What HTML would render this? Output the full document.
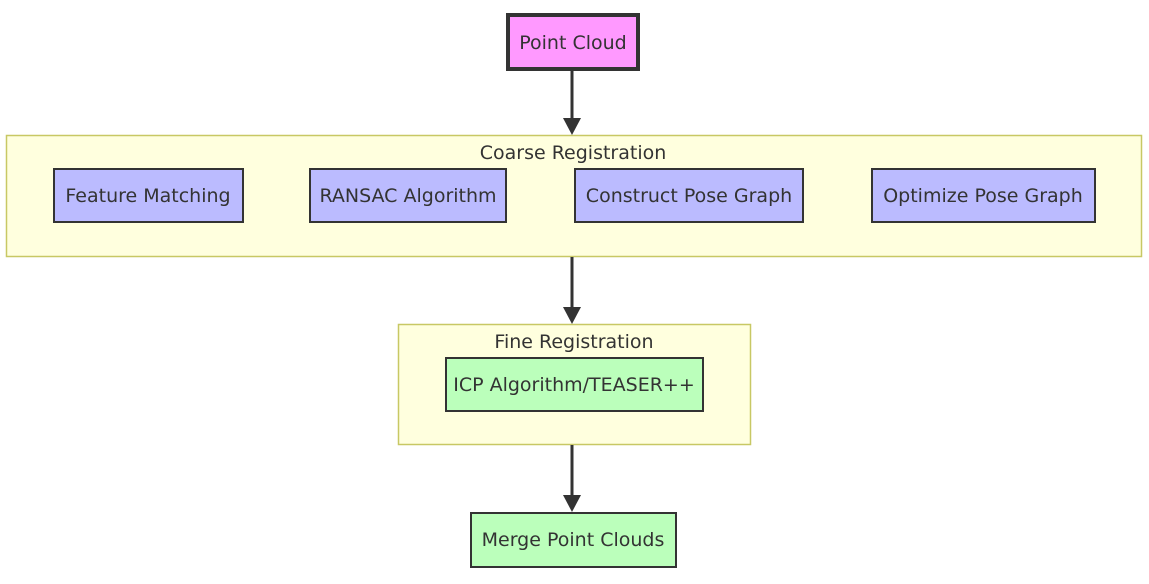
<!DOCTYPE html>
<html><head><style>
body{margin:0;background:#fff;}
svg text{font-family:"DejaVu Sans","Liberation Sans",sans-serif;font-size:19px;fill:#333;}
</style></head><body>
<svg width="1149" height="579" viewBox="0 0 1149 579" xmlns="http://www.w3.org/2000/svg">
<defs><marker id="a" markerWidth="10" markerHeight="10" refX="5" refY="5" orient="auto" markerUnits="userSpaceOnUse"><path d="M0,0 L10,5 L0,10 z" fill="#333"/></marker></defs>
<rect x="6.5" y="135.5" width="1135" height="121" fill="#ffffde" stroke="#c8c864" stroke-width="1.5"/>
<rect x="398.5" y="324.5" width="352" height="120" fill="#ffffde" stroke="#c8c864" stroke-width="1.5"/>
<g stroke="#333" stroke-width="3" fill="none">
<line x1="572" y1="70" x2="572" y2="120"/>
<line x1="572" y1="257" x2="572" y2="309"/>
<line x1="572" y1="445" x2="572" y2="497"/>
</g>
<g fill="#333">
<path d="M563,118 L581,118 L572,135 z"/>
<path d="M563,307 L581,307 L572,324 z"/>
<path d="M563,495 L581,495 L572,512 z"/>
</g>
<rect x="508" y="15" width="130" height="54" fill="#ff99ff" stroke="#333" stroke-width="4"/>
<g stroke="#333" stroke-width="2">
<rect x="54" y="169" width="189" height="53" fill="#bbbbff"/>
<rect x="310" y="169" width="196" height="53" fill="#bbbbff"/>
<rect x="575" y="169" width="228" height="53" fill="#bbbbff"/>
<rect x="872" y="169" width="223" height="53" fill="#bbbbff"/>
<rect x="446" y="358" width="257" height="53" fill="#bbffbb"/>
<rect x="471" y="513" width="205" height="54" fill="#bbffbb"/>
</g>
<g text-anchor="middle">
<text x="573" y="49">Point Cloud</text>
<text x="573" y="159">Coarse Registration</text>
<text x="148" y="202">Feature Matching</text>
<text x="408" y="202">RANSAC Algorithm</text>
<text x="689" y="202">Construct Pose Graph</text>
<text x="983" y="202">Optimize Pose Graph</text>
<text x="574" y="348">Fine Registration</text>
<text x="574" y="391">ICP Algorithm/TEASER++</text>
<text x="573" y="546">Merge Point Clouds</text>
</g>
</svg>
</body></html>
